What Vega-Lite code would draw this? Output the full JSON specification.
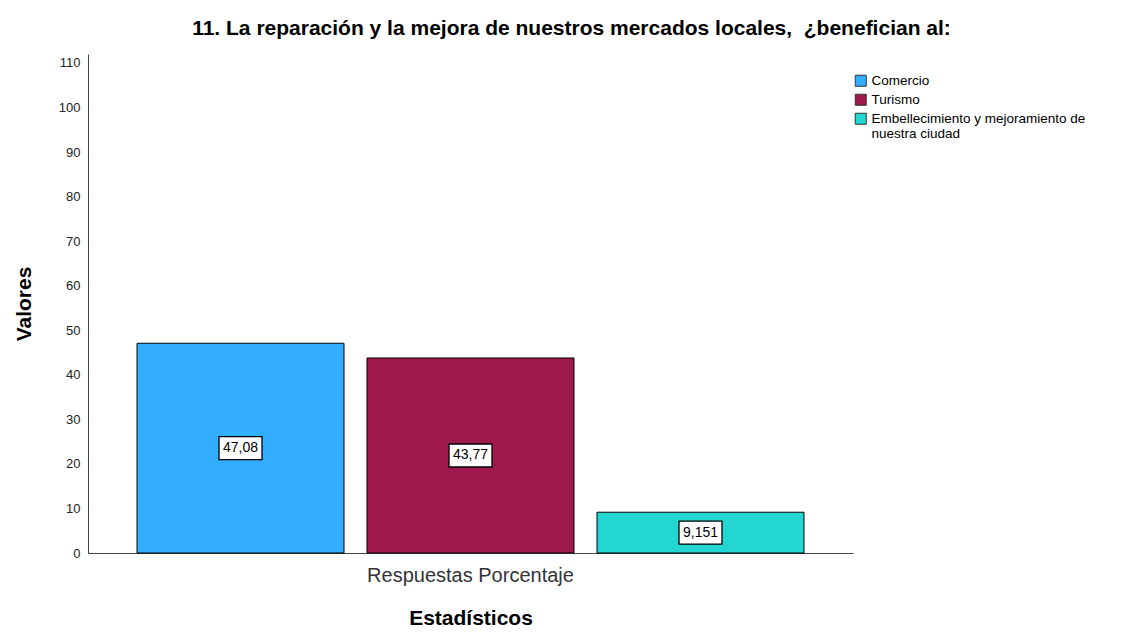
{
  "$schema": "https://vega.github.io/schema/vega-lite/v6.json",
  "width": 765,
  "height": 499,
  "autosize": {"type": "none"},
  "padding": {"left": 88, "top": 54, "right": 287, "bottom": 88},
  "background": "white",
  "title": {
    "text": "11. La reparación y la mejora de nuestros mercados locales, \u00a0¿benefician al:",
    "font": "Liberation Sans",
    "fontSize": 21,
    "fontWeight": "bold",
    "color": "#000000",
    "anchor": "middle",
    "dx": 101,
    "offset": 15
  },
  "data": {
    "values": [
      {"stat": "Respuestas Porcentaje", "serie": "Comercio", "value": 47.08, "label": "47,08"},
      {"stat": "Respuestas Porcentaje", "serie": "Turismo", "value": 43.77, "label": "43,77"},
      {"stat": "Respuestas Porcentaje", "serie": "Embellecimiento y mejoramiento de nuestra ciudad", "value": 9.151, "label": "9,151"}
    ]
  },
  "encoding": {
    "x": {
      "field": "stat",
      "type": "nominal",
      "scale": {"paddingInner": 0, "paddingOuter": 0.0735},
      "axis": {
        "title": "Estadísticos",
        "titleFont": "Liberation Sans",
        "titleFontSize": 21,
        "titleFontWeight": "bold",
        "titleColor": "#000000",
        "titlePadding": 22,
        "labelFont": "Liberation Sans",
        "labelFontSize": 20,
        "labelColor": "#333333",
        "labelAngle": 0,
        "labelPadding": 12,
        "labelLimit": 500,
        "ticks": false,
        "domainColor": "#444444",
        "domainWidth": 1
      }
    },
    "xOffset": {
      "field": "serie",
      "type": "nominal",
      "sort": ["Comercio", "Turismo", "Embellecimiento y mejoramiento de nuestra ciudad"],
      "scale": {"paddingInner": 0.1, "paddingOuter": 0}
    }
  },
  "layer": [
    {
      "mark": {"type": "bar", "stroke": "#000000", "strokeWidth": 1},
      "encoding": {
        "y": {
          "field": "value",
          "type": "quantitative",
          "scale": {"domain": [0, 112], "nice": false},
          "axis": {
            "values": [0, 10, 20, 30, 40, 50, 60, 70, 80, 90, 100, 110],
            "title": "Valores",
            "titleFont": "Liberation Sans",
            "titleFontSize": 21,
            "titleFontWeight": "bold",
            "titleColor": "#000000",
            "titlePadding": 24,
            "labelFont": "Liberation Sans",
            "labelFontSize": 13,
            "labelColor": "#222222",
            "labelPadding": 8,
            "ticks": false,
            "grid": false,
            "domainColor": "#444444",
            "domainWidth": 1
          }
        },
        "color": {
          "field": "serie",
          "type": "nominal",
          "sort": ["Comercio", "Turismo", "Embellecimiento y mejoramiento de nuestra ciudad"],
          "scale": {
            "domain": ["Comercio", "Turismo", "Embellecimiento y mejoramiento de nuestra ciudad"],
            "range": ["#33adff", "#a0194c", "#24d6d2"]
          },
          "legend": {
            "title": null,
            "orient": "none",
            "legendX": 766,
            "legendY": 20,
            "symbolType": "square",
            "symbolSize": 121,
            "symbolStrokeColor": "#333333",
            "symbolStrokeWidth": 1,
            "labelFont": "Liberation Sans",
            "labelFontSize": 13.5,
            "labelColor": "#000000",
            "labelLimit": 300,
            "labelOffset": 4,
            "rowPadding": 3,
            "labelExpr": "datum.label == 'Embellecimiento y mejoramiento de nuestra ciudad' ? ['Embellecimiento y mejoramiento de', 'nuestra ciudad'] : datum.label"
          }
        }
      }
    },
    {
      "transform": [{"calculate": "datum.value / 2", "as": "mid"}],
      "mark": {
        "type": "point",
        "shape": "M-1,-0.535H1V0.535H-1Z",
        "size": 1849,
        "filled": true,
        "fill": "#ffffff",
        "stroke": "#000000",
        "strokeWidth": 1.3,
        "opacity": 1
      },
      "encoding": {
        "y": {"field": "mid", "type": "quantitative", "scale": {"domain": [0, 112], "nice": false}}
      }
    },
    {
      "transform": [{"calculate": "datum.value / 2", "as": "mid"}],
      "mark": {"type": "text", "font": "Liberation Sans", "fontSize": 14, "color": "#000000", "baseline": "middle", "align": "center"},
      "encoding": {
        "y": {"field": "mid", "type": "quantitative", "scale": {"domain": [0, 112], "nice": false}},
        "text": {"field": "label"}
      }
    }
  ],
  "config": {
    "view": {"stroke": null}
  }
}
